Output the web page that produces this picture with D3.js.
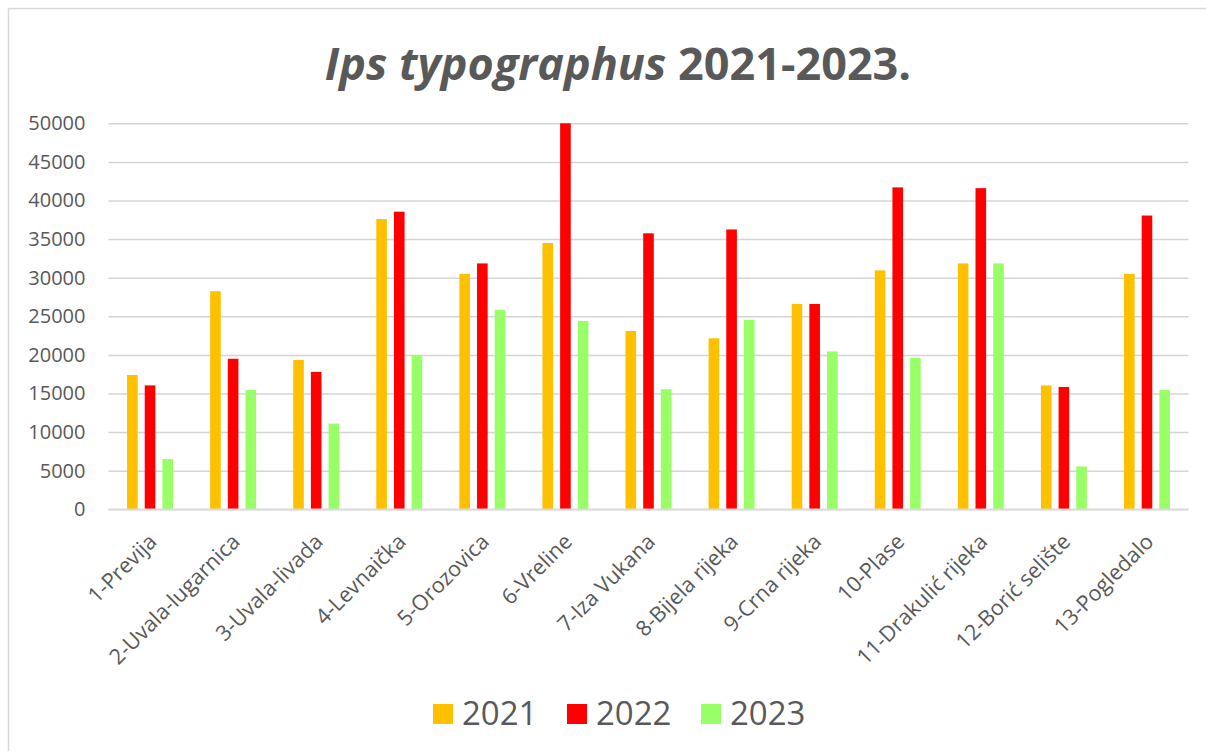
<!doctype html>
<html>
<head>
<meta charset="utf-8"/>
<title>Ips typographus 2021-2023</title>
<script src="https://d3js.org/d3.v7.min.js"></script>
<style>
	body { margin: 0; background: #fff; }
	text { font-family: "Open Sans", Lato, sans-serif; fill: #595959; }
</style>
</head>
<body>
<svg id="chart"></svg>
<script>
var categories = ["1-Previja", "2-Uvala-lugarnica", "3-Uvala-livada", "4-Levnaička", "5-Orozovica", "6-Vreline", "7-Iza Vukana", "8-Bijela rijeka", "9-Crna rijeka", "10-Plase", "11-Drakulić rijeka", "12-Borić selište", "13-Pogledalo"];
var years = ["2021", "2022", "2023"];
var values2021 = [17400, 28250, 19350, 37600, 30500, 34500, 23100, 22150, 26600, 30950, 31850, 16050, 30500];
var values2022 = [16050, 19500, 17800, 38550, 31850, 50000, 35750, 36250, 26600, 41700, 41600, 15850, 38050];
var values2023 = [6500, 15450, 11100, 20000, 25850, 24400, 15550, 24550, 20450, 19600, 31850, 5550, 15450];
var yTicks = [0, 5000, 10000, 15000, 20000, 25000, 30000, 35000, 40000, 45000, 50000];
var colors = ["#FFC000", "#FF0000", "#99FF66"];

var series = [values2021, values2022, values2023];
var width = 1206, height = 751;
var svg = d3.select("#chart").attr("width", width).attr("height", height);

// ramka
svg.append("rect")
	.attr("x", 8.5).attr("y", 8.5)
	.attr("width", width).attr("height", height)
	.attr("fill", "none").attr("stroke", "#d9d9d9").attr("stroke-width", 1.5);

var x0 = d3.scaleBand().domain(categories).range([108.5, 1188.5]).padding(0);
var x1 = d3.scaleBand().domain(years).range([0, x0.bandwidth()])
	.paddingInner(0.4).paddingOuter(1.05);
var y = d3.scaleLinear().domain([0, 50000]).range([509.3, 123.3]);

// mreza
var grid = svg.append("g")
	.attr("transform", "translate(108.5,0)")
	.call(d3.axisLeft(y).tickValues(yTicks).tickSize(-1080).tickFormat(""));
grid.select(".domain").remove();
grid.selectAll("line").attr("stroke", "#d4d4d4").attr("stroke-width", 1.5);

// y oznake
var yAxis = svg.append("g")
	.attr("transform", "translate(108.5,0)")
	.call(d3.axisLeft(y).tickValues(yTicks).tickSize(0).tickPadding(23).tickFormat(d3.format("d")));
yAxis.select(".domain").remove();
yAxis.selectAll("text").style("font-size", "20px").attr("fill", "#595959");

// stupci
var groups = svg.selectAll("g.grp")
	.data(categories)
	.enter().append("g")
	.attr("class", "grp")
	.attr("transform", function(d) { return "translate(" + x0(d) + ",0)"; });

groups.selectAll("rect")
	.data(function(d, i) { return years.map(function(yr, j) { return {year: yr, v: series[j][i], c: colors[j]}; }); })
	.enter().append("rect")
	.attr("x", function(d) { return x1(d.year); })
	.attr("width", x1.bandwidth())
	.attr("y", function(d) { return y(d.v); })
	.attr("height", function(d) { return y(0) - y(d.v); })
	.attr("fill", function(d) { return d.c; });

// os x
svg.append("line")
	.attr("x1", 108.5).attr("x2", 1188.5)
	.attr("y1", y(0)).attr("y2", y(0))
	.attr("stroke", "#d9d9d9").attr("stroke-width", 1.5);

svg.selectAll("text.xlab")
	.data(categories)
	.enter().append("text")
	.attr("class", "xlab")
	.attr("text-anchor", "end")
	.style("font-size", "21.5px")
	.attr("transform", function(d) { return "translate(" + (x0(d) + x0.bandwidth() / 2 + 8) + "," + 543 + ") rotate(-45)"; })
	.text(function(d) { return d; });

// naslov
var title = svg.append("text")
	.attr("x", 618).attr("y", 80)
	.attr("text-anchor", "middle")
	.style("font-size", "45px")
	.style("font-weight", "bold");
title.append("tspan").style("font-style", "italic").text("Ips typographus");
title.append("tspan").text(" 2021-2023.");

// legenda
var legend = svg.selectAll("g.leg")
	.data(years)
	.enter().append("g")
	.attr("class", "leg")
	.attr("transform", function(d, i) { return "translate(" + (433 + i * 134) + ",704)"; });
legend.append("rect")
	.attr("width", 20).attr("height", 20)
	.attr("fill", function(d, i) { return colors[i]; });
legend.append("text")
	.attr("x", 29).attr("y", 21)
	.style("font-size", "33px")
	.text(function(d) { return d; });
</script>
</body>
</html>
